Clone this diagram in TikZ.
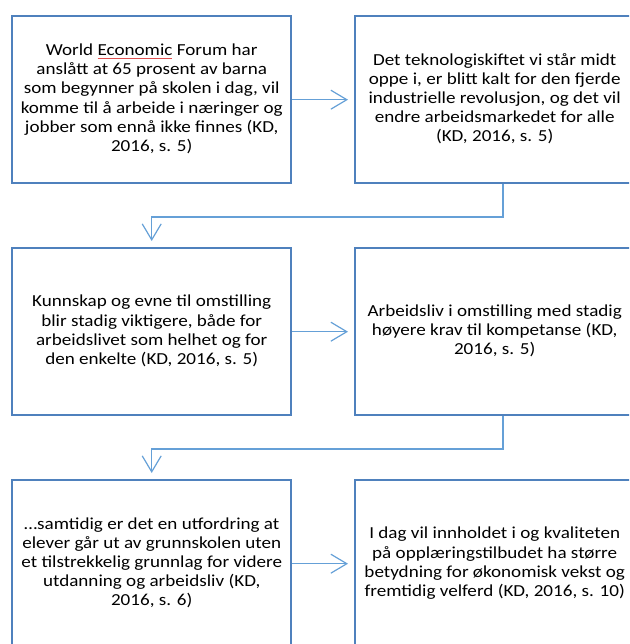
\documentclass[tikz,border=0pt]{standalone}
\usepackage{fontspec}
\usepackage{graphicx}
\setmainfont{Carlito}
\usetikzlibrary{arrows.meta,calc}
\definecolor{boxblue}{RGB}{79,129,189}
\definecolor{linkblue}{RGB}{101,160,215}
\definecolor{spellred}{RGB}{225,80,80}
% thin red underline beneath a word
\newsavebox\spellbox
\newcommand\spellmark[1]{\sbox\spellbox{#1}\rlap{\color{spellred}\rule[-2.6pt]{\wd\spellbox}{0.8pt}}\usebox\spellbox}
% centred box text, one row per line, slightly flattened
\newcommand\boxtext[1]{\scalebox{1}[0.88]{\fontsize{19.1}{21.6}\selectfont\begin{tabular}{@{}c@{}}#1\end{tabular}}}
\begin{document}
\begin{tikzpicture}[x=1pt,y=-1pt,
  textbox/.style={draw=boxblue, line width=2.4pt, minimum width=279pt,
    minimum height=167pt, inner sep=0pt, anchor=north west},
  link/.style={draw=linkblue, line width=1.2pt,
    -{Straight Barb[length=16pt,width=19pt,line width=1.2pt]}, shorten >=6pt}]
\useasboundingbox (0,0) rectangle (629,644);
\clip (0,0) rectangle (629,644);

\node[textbox] (b1) at (11,15) {\boxtext{World \spellmark{Economic} Forum har\\anslått at 65 prosent av barna\\som begynner på skolen i dag, vil\\komme til å arbeide i næringer og\\jobber som ennå ikke finnes (KD,\\2016, s. 5)}};
\node[textbox] (b2) at (354,15) {\boxtext{Det teknologiskiftet vi står midt\\oppe i, er blitt kalt for den fjerde\\industrielle revolusjon, og det vil\\endre arbeidsmarkedet for alle\\(KD, 2016, s. 5)}};
\node[textbox] (b3) at (11,247) {\boxtext{Kunnskap og evne til omstilling\\blir stadig viktigere, både for\\arbeidslivet som helhet og for\\den enkelte (KD, 2016, s. 5)}};
\node[textbox] (b4) at (354,247) {\boxtext{Arbeidsliv i omstilling med stadig\\høyere krav til kompetanse (KD,\\2016, s. 5)}};
\node[textbox] (b5) at (11,479) {\boxtext{…samtidig er det en utfordring at\\elever går ut av grunnskolen uten\\et tilstrekkelig grunnlag for videre\\utdanning og arbeidsliv (KD,\\2016, s. 6)}};
\node[textbox] (b6) at (354,479) {\boxtext{I dag vil innholdet i og kvaliteten\\på opplæringstilbudet ha større\\betydning for økonomisk vekst og\\fremtidig velferd (KD, 2016, s. 10)}};

% elbow connector start points on the lower edge of the right-hand boxes
\coordinate (d1) at ($(b2.south west)+(149,0)$);
\coordinate (d2) at ($(b4.south west)+(149,0)$);

\draw[link] (b1.east) -- (b2.west);
\draw[link] (b3.east) -- (b4.west);
\draw[link] (b5.east) -- (b6.west);
\draw[link] (d1) -- ++(0,32.5) -| (b3.north);
\draw[link] (d2) -- ++(0,32.5) -| (b5.north);
\end{tikzpicture}
\end{document}
